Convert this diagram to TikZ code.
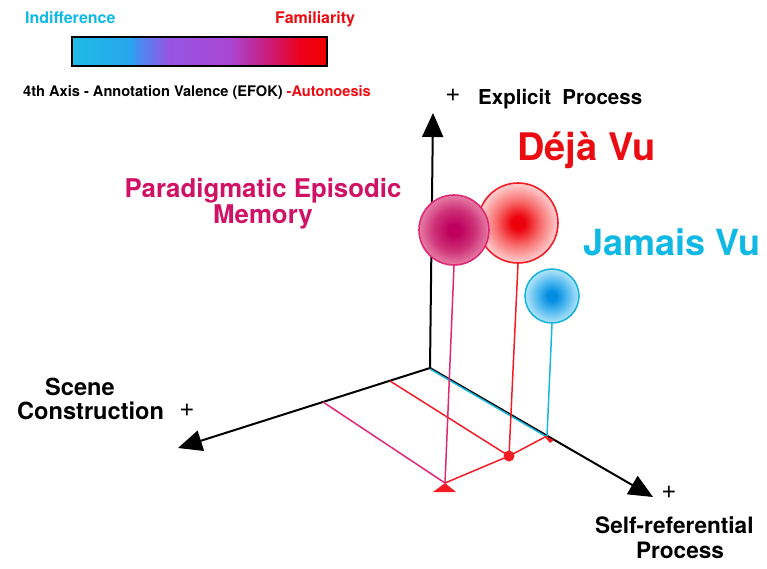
\documentclass[tikz,border=0pt]{standalone}
\usepackage{fontspec}
\setmainfont{TeX Gyre Heros}
\usetikzlibrary{arrows.meta}

% palette
\definecolor{cyanT}{RGB}{15,185,228}
\definecolor{redT}{RGB}{235,12,18}
\definecolor{pinkT}{RGB}{208,18,102}
\definecolor{pinkL}{RGB}{222,40,118}
\definecolor{redL}{RGB}{242,28,36}
\definecolor{cyanL}{RGB}{25,182,222}
% ball colours
\definecolor{pkA}{RGB}{190,0,92}
\definecolor{pkB}{RGB}{206,50,120}
\definecolor{pkC}{RGB}{230,125,165}
\definecolor{rdA}{RGB}{236,0,10}
\definecolor{rdB}{RGB}{248,110,110}
\definecolor{rdC}{RGB}{255,210,210}
\definecolor{cyA}{RGB}{0,140,225}
\definecolor{cyB}{RGB}{80,185,240}
\definecolor{cyC}{RGB}{180,228,248}
% valence bar colours
\definecolor{vb1}{RGB}{30,188,230}
\definecolor{vb2}{RGB}{40,165,238}
\definecolor{vb3}{RGB}{70,140,240}
\definecolor{vb4}{RGB}{150,85,228}
\definecolor{vb5}{RGB}{170,70,210}
\definecolor{vb6}{RGB}{205,25,115}
\definecolor{vb7}{RGB}{238,0,25}
\definecolor{vb8}{RGB}{240,0,0}

% shadings: the filled path spans 25bp..75bp of the 100bp shading box
\pgfdeclareradialshading{pinkball}{\pgfpoint{0bp}{0bp}}{color(0bp)=(pkA); color(4bp)=(pkA); color(15bp)=(pkB); color(25bp)=(pkC); color(50bp)=(pkC)}
\pgfdeclareradialshading{redball}{\pgfpoint{0bp}{0bp}}{color(0bp)=(rdA); color(4bp)=(rdA); color(14bp)=(rdB); color(25bp)=(rdC); color(50bp)=(rdC)}
\pgfdeclareradialshading{cyanball}{\pgfpoint{0bp}{0bp}}{color(0bp)=(cyA); color(4bp)=(cyA); color(14bp)=(cyB); color(25bp)=(cyC); color(50bp)=(cyC)}
\pgfdeclarehorizontalshading{valence}{100bp}{color(0bp)=(vb1); color(25bp)=(vb1); color(36.5bp)=(vb2); color(38bp)=(vb3); color(44bp)=(vb4); color(56bp)=(vb5); color(64bp)=(vb6); color(70bp)=(vb7); color(75bp)=(vb8); color(100bp)=(vb8)}

\newcommand{\fsz}[1]{\fontsize{#1}{#1}\selectfont}

\begin{document}
\begin{tikzpicture}[x=1pt,y=-1pt,
  lbl/.style={inner sep=0pt, font=\bfseries},
  plus/.style={inner sep=0pt, font=\fsz{26}},
  axis/.style={line width=2pt, black, -{Triangle[length=24pt,width=21pt]}},
  ball/.style={circle, inner sep=0pt, line width=1.6pt},
  proj/.style={line width=1.5pt}]
\useasboundingbox (0,0) rectangle (767,568);

% ---- legend ----
\node[lbl, anchor=base west, text=cyanT, font=\bfseries\fsz{16}] (indiff) at (25,23) {Indifference};
\node[lbl, anchor=base west, text=redT, font=\bfseries\fsz{16}] (famil) at (275,23) {Familiarity};
\shade[shading=valence, draw=black, line width=1.5pt] (72,37) rectangle (327,66);
\node[lbl, anchor=base west, font=\bfseries\fsz{14.6}] (valence) at (23,96.5)
  {4th Axis - Annotation Valence (EFOK) \textcolor{redT}{-Autonoesis}};

% ---- axes ----
\coordinate (O) at (430,368);
\coordinate (upTip) at (433,113);
\coordinate (leftTip) at (178,448);
\coordinate (rightTip) at (653,497);
\draw[axis] (O) -- (upTip);
\draw[axis] (O) -- (leftTip);
\draw[axis] (O) -- (rightTip);

% ---- axis labels ----
\node[plus] (plusE) at (453,95) {+};
\node[lbl, anchor=base west, font=\bfseries\fsz{20.5}] (explicit) at (478,104) {Explicit\hspace{0.55em}Process};
\node[lbl, anchor=base, font=\bfseries\fsz{23.6}] (scene) at (80,395) {Scene};
\node[lbl, anchor=base west, font=\bfseries\fsz{23.6}] (construction) at (17,419) {Construction};
\node[plus] (plusS) at (187,410) {+};
\node[plus] (plusR) at (669,492) {+};
\node[lbl, anchor=base west, font=\bfseries\fsz{22.6}] (selfref) at (595,533) {Self-referential};
\node[lbl, anchor=base, font=\bfseries\fsz{22.6}] (process) at (680,558) {Process};

% ---- ground projections ----
\coordinate (pL) at (323,402);
\coordinate (rL) at (390,381);
\coordinate (rR) at (547,436);
\coordinate (tri) at (445,483);
\coordinate (dot) at (509,456);

\draw[proj, cyanL] ([yshift=-1pt]O) -- ([yshift=-1pt]rR);
\draw[proj, pinkL] (pL) -- (tri);
\draw[proj, redL] (rL) -- (dot);
\draw[proj, redL] (tri) -- (dot) -- (rR);

% ---- balls ----
\node[ball, minimum size=80pt, shading=redball, draw=redL] (deja) at (518,223) {};
\node[ball, minimum size=70pt, shading=pinkball, draw=pinkL] (pem) at (454,230) {};
\node[ball, minimum size=54pt, shading=cyanball, draw=cyanL] (jamais) at (552,296) {};

% ---- drop lines ----
\draw[proj, pinkL] (pem.south) -- (tri);
\draw[proj, redL] (deja.south) -- (dot);
\draw[proj, cyanL] (jamais.south) -- (rR);

% ---- ground markers ----
\fill[redL] (tri) -- (456,492) -- (433,492) -- cycle;
\fill[redL] (dot) circle (5.5pt);
\fill[redL] (544,436) -- (554,440) -- (550,443) -- cycle;

% ---- ball labels ----
\node[lbl, anchor=base west, text=redT, font=\bfseries\fsz{38}] (dejaT) at (517,160) {Déjà Vu};
\node[lbl, anchor=base west, text=cyanT, font=\bfseries\fsz{36}] (jamaisT) at (583,255) {Jamais Vu};
\node[lbl, anchor=base, text=pinkT, font=\bfseries\fsz{25.8}] (pemT1) at (263,197) {Paradigmatic Episodic};
\node[lbl, anchor=base, text=pinkT, font=\bfseries\fsz{25.8}] (pemT2) at (263,223) {Memory};
\end{tikzpicture}
\end{document}
